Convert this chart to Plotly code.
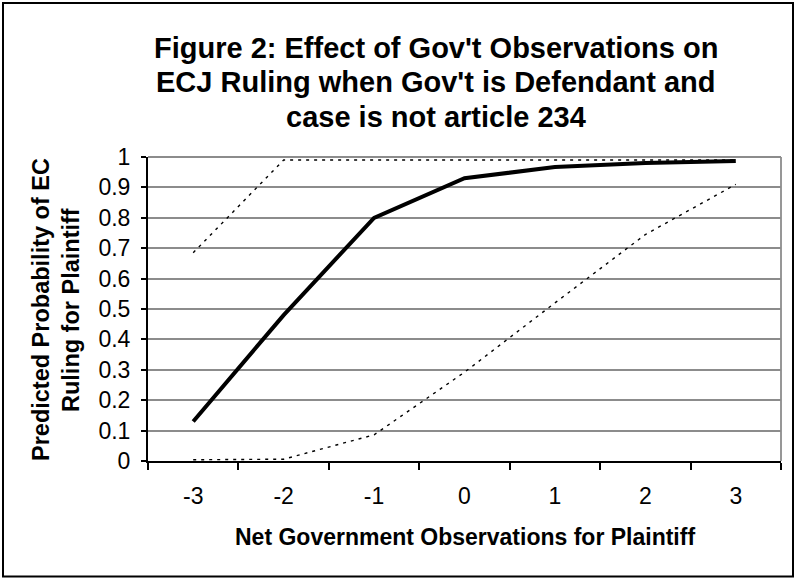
import plotly.graph_objects as go

categories = ["-3", "-2", "-1", "0", "1", "2", "3"]
predicted = [0.13, 0.48, 0.80, 0.93, 0.967, 0.98, 0.987]
upper_bound = [0.685, 0.99, 0.99, 0.99, 0.99, 0.99, 0.99]
lower_bound = [0.004, 0.006, 0.086, 0.292, 0.52, 0.745, 0.91]
y_ticks = [0, 0.1, 0.2, 0.3, 0.4, 0.5, 0.6, 0.7, 0.8, 0.9, 1]
title_lines = ["Figure 2: Effect of Gov't Observations on",
               "ECJ Ruling when Gov't is Defendant and",
               "case is not article 234"]
x_title = "Net Government Observations for Plaintiff"
y_title_lines = ["Predicted Probability of EC", "Ruling for Plaintiff"]

W, H = 797, 579
L, R, T, B = 148, 781, 157, 461
FONT = "Liberation Sans, Arial, sans-serif"


def px(x):
    return (x - L) / (R - L)


def py(y):
    return (B - y) / (B - T)


fig = go.Figure()
fig.add_trace(go.Scatter(x=categories, y=lower_bound, mode="lines",
                         line=dict(color="black", width=1.4, dash="3px,5px"),
                         showlegend=False, hoverinfo="skip"))
fig.add_trace(go.Scatter(x=categories, y=predicted, mode="lines",
                         line=dict(color="black", width=4),
                         showlegend=False))
fig.add_trace(go.Scatter(x=categories, y=upper_bound, mode="lines",
                         line=dict(color="black", width=1.4, dash="3px,5px"),
                         showlegend=False, hoverinfo="skip"))

fig.update_layout(
    width=W, height=H,
    margin=dict(l=L, r=W - R, t=T, b=H - B, pad=0),
    paper_bgcolor="white", plot_bgcolor="white",
    font=dict(family=FONT, color="black"),
    xaxis=dict(type="category", range=[-0.5, 6.5], showgrid=False,
               showline=True, linecolor="black", linewidth=2,
               ticks="outside", tickson="boundaries", ticklen=7,
               tickwidth=1.5, tickcolor="black",
               tickfont=dict(size=23, family=FONT),
               ticklabelstandoff=13, zeroline=False),
    yaxis=dict(range=[0, 1], tickvals=y_ticks, showgrid=True,
               gridcolor="#8c8c8c", gridwidth=1.6,
               showline=True, linecolor="black", linewidth=2,
               ticks="outside", ticklen=5, tickwidth=1.5, tickcolor="black",
               tickfont=dict(size=23, family=FONT),
               ticklabelstandoff=6, zeroline=False),
)

# plot-area border (top and right in gray)
fig.add_shape(type="line", xref="paper", yref="paper", x0=0, x1=1, y0=1, y1=1,
              line=dict(color="#8c8c8c", width=1.8), layer="below")
fig.add_shape(type="line", xref="paper", yref="paper", x0=1, x1=1, y0=0, y1=1,
              line=dict(color="#8c8c8c", width=1.8), layer="below")
# outer chart border
fig.add_shape(type="rect", xref="paper", yref="paper",
              x0=px(3), x1=px(793), y0=py(576.5), y1=py(3),
              line=dict(color="black", width=2))

for line, yc in zip(title_lines, [48, 82, 117]):
    fig.add_annotation(text="<b>" + line + "</b>", xref="paper", yref="paper",
                       x=px(436), y=py(yc), xanchor="center", yanchor="middle",
                       showarrow=False,
                       font=dict(size=29, family=FONT, color="black"))

fig.add_annotation(text="<b>" + x_title + "</b>", xref="paper", yref="paper",
                   x=px(465), y=py(537), xanchor="center", yanchor="middle",
                   showarrow=False, font=dict(size=23, family=FONT, color="black"))
for line, xc in zip(y_title_lines, [41, 71]):
    fig.add_annotation(text="<b>" + line + "</b>", xref="paper", yref="paper",
                       x=px(xc), y=py(310), xanchor="center", yanchor="middle",
                       textangle=-90, showarrow=False,
                       font=dict(size=23.5, family=FONT, color="black"))

fig.write_html("out.html", config={"displayModeBar": False},
               post_script="document.body.style.margin='0';document.body.style.padding='0';")
